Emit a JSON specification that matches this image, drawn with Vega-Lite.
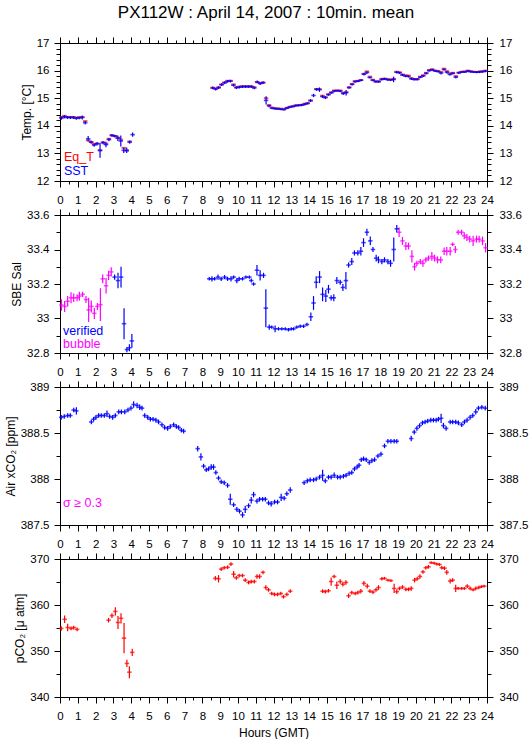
{
"$schema":"https://vega.github.io/schema/vega-lite/v6.json",
"padding":{"left":3,"top":4,"right":0,"bottom":0},
"title":{"text":"PX112W : April 14, 2007 : 10min. mean","fontSize":17,"fontWeight":"normal","font":"Liberation Sans","color":"#000","anchor":"middle","offset":14},
"config":{"font":"Liberation Sans","view":{"stroke":"#000","strokeWidth":1},
"axis":{"labelFont":"Liberation Sans","labelFontSize":11.5,"labelColor":"#000","tickColor":"#000","domainColor":"#000","tickWidth":1,"domainWidth":1,"grid":false,"titleFont":"Liberation Sans","titleFontSize":12,"titleFontWeight":"normal","titleColor":"#000","labelFlush":false,"labelOverlap":false,"labelBound":false,"titlePadding":3}},
"spacing":34,
"bounds":"flush",
"resolve":{"scale":{"x":"independent","y":"independent","color":"independent"}},
"datasets":{
"t":[
{"h":0.083,"s":14.28,"se":0.06,"q":14.31},{"h":0.25,"s":14.33,"se":0.06,"q":14.36},{"h":0.417,"s":14.3,"se":0.05,"q":14.32},{"h":0.583,"s":14.3,"se":0.05,"q":14.32},{"h":0.75,"s":14.3,"se":0.05,"q":14.32},{"h":0.917,"s":14.27,"se":0.05,"q":14.3},{"h":1.083,"s":14.29,"se":0.05,"q":14.31},{"h":1.25,"s":14.3,"se":0.07,"q":14.32},{"h":1.417,"s":14.11,"se":0.06,"q":14.17},
{"h":1.583,"s":13.53,"se":0.1,"q":13.47},{"h":1.75,"s":13.41,"se":0.06,"q":13.41},{"h":1.917,"s":13.3,"se":0.06,"q":13.34},{"h":2.083,"s":13.35,"se":0.06,"q":13.36},{"h":2.25,"s":13.11,"se":0.27,"q":13.11},{"h":2.417,"s":13.39,"se":0.06,"q":13.4},{"h":2.583,"s":13.32,"se":0.1,"q":13.35},{"h":2.75,"s":13.5,"se":0.06,"q":13.53},{"h":2.917,"s":13.65,"se":0.05,"q":13.66},{"h":3.083,"s":13.63,"se":0.05,"q":13.63},{"h":3.25,"s":13.55,"se":0.1,"q":13.57},{"h":3.417,"s":13.45,"se":0.2,"q":13.5},{"h":3.583,"s":13.11,"se":0.1,"q":13.2},{"h":3.75,"s":13.11,"se":0.1,"q":13.1},{"h":3.917,"s":13.41,"se":0.06,"q":13.43},{"h":4.083,"s":13.68,"se":0.08},
{"h":8.583,"s":15.37,"se":0.05,"q":15.38},{"h":8.75,"s":15.33,"se":0.05,"q":15.35},{"h":8.917,"s":15.38,"se":0.05,"q":15.4},{"h":9.083,"s":15.49,"se":0.05,"q":15.5},{"h":9.25,"s":15.56,"se":0.05,"q":15.57},{"h":9.417,"s":15.61,"se":0.05,"q":15.63},{"h":9.583,"s":15.62,"se":0.05,"q":15.63},{"h":9.75,"s":15.47,"se":0.05,"q":15.5},{"h":9.917,"s":15.38,"se":0.05,"q":15.4},{"h":10.083,"s":15.4,"se":0.05,"q":15.42},{"h":10.25,"s":15.42,"se":0.05,"q":15.43},{"h":10.417,"s":15.42,"se":0.05,"q":15.43},{"h":10.583,"s":15.42,"se":0.05,"q":15.43},{"h":10.75,"s":15.42,"se":0.05,"q":15.43},{"h":10.917,"s":15.37,"se":0.05,"q":15.4},{"h":11.083,"s":15.59,"se":0.05,"q":15.58},{"h":11.25,"s":15.53,"se":0.05,"q":15.55},{"h":11.417,"s":15.56,"se":0.05,"q":15.57},{"h":11.583,"s":14.92,"se":0.15,"q":15.0},{"h":11.75,"s":14.72,"se":0.05,"q":14.75},{"h":11.917,"s":14.64,"se":0.04,"q":14.66},{"h":12.083,"s":14.62,"se":0.04,"q":14.64},{"h":12.25,"s":14.61,"se":0.04,"q":14.63},{"h":12.417,"s":14.6,"se":0.04,"q":14.62},{"h":12.583,"s":14.59,"se":0.04,"q":14.6},{"h":12.75,"s":14.64,"se":0.04,"q":14.65},{"h":12.917,"s":14.68,"se":0.04,"q":14.69},{"h":13.083,"s":14.7,"se":0.04,"q":14.71},{"h":13.25,"s":14.73,"se":0.04,"q":14.74},{"h":13.417,"s":14.74,"se":0.04,"q":14.75},{"h":13.583,"s":14.75,"se":0.04,"q":14.76},{"h":13.75,"s":14.78,"se":0.04,"q":14.8},{"h":13.917,"s":14.81,"se":0.04,"q":14.82},{"h":14.083,"s":14.91,"se":0.05,"q":14.92},{"h":14.25,"s":15.1,"se":0.06},{"h":14.417,"s":15.32,"se":0.05,"q":15.33},{"h":14.583,"s":15.31,"se":0.08,"q":15.33},{"h":14.75,"s":15.06,"se":0.05,"q":15.09},{"h":14.917,"s":15.02,"se":0.05,"q":15.04},{"h":15.083,"s":15.13,"se":0.04,"q":15.14},{"h":15.25,"s":15.2,"se":0.04,"q":15.21},{"h":15.417,"s":15.26,"se":0.04,"q":15.28},{"h":15.583,"s":15.27,"se":0.04,"q":15.28},{"h":15.75,"s":15.26,"se":0.04,"q":15.28},{"h":15.917,"s":15.17,"se":0.05,"q":15.2},{"h":16.083,"s":15.2,"se":0.1,"q":15.22},{"h":16.25,"s":15.38,"se":0.04,"q":15.4},{"h":16.417,"s":15.5,"se":0.04,"q":15.52},{"h":16.583,"s":15.6,"se":0.04,"q":15.62},{"h":16.75,"s":15.62,"se":0.04,"q":15.63},{"h":16.917,"s":15.65,"se":0.04,"q":15.66},{"h":17.083,"s":15.87,"se":0.05,"q":15.88},{"h":17.25,"s":15.93,"se":0.05,"q":15.97},{"h":17.417,"s":15.75,"se":0.04,"q":15.78},{"h":17.583,"s":15.65,"se":0.04,"q":15.67},{"h":17.75,"s":15.6,"se":0.04,"q":15.61},{"h":17.917,"s":15.6,"se":0.04,"q":15.61},{"h":18.083,"s":15.68,"se":0.04,"q":15.7},{"h":18.25,"s":15.7,"se":0.04,"q":15.71},{"h":18.417,"s":15.67,"se":0.04,"q":15.69},{"h":18.583,"s":15.66,"se":0.04,"q":15.68},{"h":18.75,"s":15.68,"se":0.1,"q":15.7},{"h":18.917,"s":15.94,"se":0.04,"q":15.96},{"h":19.083,"s":15.92,"se":0.04,"q":15.94},{"h":19.25,"s":15.84,"se":0.04,"q":15.86},{"h":19.417,"s":15.8,"se":0.04,"q":15.83},{"h":19.583,"s":15.79,"se":0.04,"q":15.82},{"h":19.75,"s":15.7,"se":0.04,"q":15.73},{"h":19.917,"s":15.68,"se":0.04,"q":15.69},{"h":20.083,"s":15.68,"se":0.04,"q":15.7},{"h":20.25,"s":15.76,"se":0.04,"q":15.78},{"h":20.417,"s":15.81,"se":0.04,"q":15.83},{"h":20.583,"s":15.9,"se":0.04,"q":15.92},{"h":20.75,"s":16.0,"se":0.04,"q":16.02},{"h":20.917,"s":16.03,"se":0.04,"q":16.05},{"h":21.083,"s":15.99,"se":0.04,"q":16.0},{"h":21.25,"s":15.97,"se":0.04,"q":15.98},{"h":21.417,"s":15.91,"se":0.05,"q":15.95},{"h":21.583,"s":16.04,"se":0.04,"q":16.07},{"h":21.75,"s":15.94,"se":0.05,"q":15.98},{"h":21.917,"s":15.86,"se":0.04,"q":15.9},{"h":22.083,"s":15.9,"se":0.04,"q":15.92},{"h":22.25,"s":15.76,"se":0.05,"q":15.8},{"h":22.417,"s":15.92,"se":0.04,"q":15.93},{"h":22.583,"s":15.95,"se":0.04,"q":15.96},{"h":22.75,"s":15.95,"se":0.04,"q":15.97},{"h":22.917,"s":15.98,"se":0.04,"q":16.0},{"h":23.083,"s":15.96,"se":0.04,"q":15.98},{"h":23.25,"s":15.95,"se":0.04,"q":15.96},{"h":23.417,"s":15.94,"se":0.04,"q":15.95},{"h":23.583,"s":15.95,"se":0.04,"q":15.97},{"h":23.75,"s":15.96,"se":0.04,"q":15.98},{"h":23.917,"s":15.98,"se":0.04,"q":16.0}
],
"s":[
{"h":0.08,"v":33.078,"e":0.033,"f":"b"},{"h":0.26,"v":33.07,"e":0.032,"f":"b"},{"h":0.43,"v":33.1,"e":0.03,"f":"b"},{"h":0.62,"v":33.12,"e":0.032,"f":"b"},{"h":0.77,"v":33.12,"e":0.025,"f":"b"},{"h":0.96,"v":33.12,"e":0.02,"f":"b"},{"h":1.09,"v":33.13,"e":0.025,"f":"b"},{"h":1.27,"v":33.14,"e":0.015,"f":"b"},{"h":1.46,"v":33.11,"e":0.02,"f":"b"},{"h":1.61,"v":33.05,"e":0.07,"f":"b"},{"h":1.76,"v":33.07,"e":0.035,"f":"b"},{"h":1.93,"v":33.03,"e":0.033,"f":"b"},{"h":2.1,"v":33.07,"e":0.02,"f":"b"},{"h":2.27,"v":33.08,"e":0.095,"f":"b"},{"h":2.4,"v":33.23,"e":0.025,"f":"b"},{"h":2.59,"v":33.19,"e":0.045,"f":"b"},{"h":2.73,"v":33.25,"e":0.027,"f":"b"},{"h":2.88,"v":33.27,"e":0.027,"f":"b"},
{"h":3.07,"v":33.24,"e":0.015,"f":"v"},{"h":3.26,"v":33.22,"e":0.045,"f":"v"},{"h":3.43,"v":33.24,"e":0.06,"f":"v"},{"h":3.6,"v":32.97,"e":0.09,"f":"v"},{"h":3.76,"v":32.82,"e":0.015,"f":"v"},{"h":3.9,"v":32.83,"e":0.02,"f":"v"},{"h":4.04,"v":32.87,"e":0.04,"f":"v"},
{"h":8.39,"v":33.23,"e":0.01,"f":"v"},{"h":8.54,"v":33.23,"e":0.015,"f":"v"},{"h":8.69,"v":33.23,"e":0.01,"f":"v"},{"h":8.88,"v":33.24,"e":0.015,"f":"v"},{"h":9.06,"v":33.23,"e":0.012,"f":"v"},{"h":9.25,"v":33.24,"e":0.012,"f":"v"},{"h":9.42,"v":33.23,"e":0.012,"f":"v"},{"h":9.61,"v":33.23,"e":0.015,"f":"v"},{"h":9.76,"v":33.24,"e":0.01,"f":"v"},{"h":9.94,"v":33.22,"e":0.015,"f":"v"},{"h":10.07,"v":33.23,"e":0.012,"f":"v"},{"h":10.26,"v":33.23,"e":0.01,"f":"v"},{"h":10.45,"v":33.24,"e":0.01,"f":"v"},{"h":10.64,"v":33.24,"e":0.01,"f":"v"},{"h":10.75,"v":33.22,"e":0.012,"f":"v"},{"h":10.88,"v":33.2,"e":0.01,"f":"v"},{"h":11.07,"v":33.28,"e":0.03,"f":"v"},{"h":11.25,"v":33.25,"e":0.03,"f":"v"},{"h":11.44,"v":33.25,"e":0.015,"f":"v"},{"h":11.57,"v":33.06,"e":0.11,"f":"v"},{"h":11.76,"v":32.95,"e":0.015,"f":"v"},{"h":11.9,"v":32.95,"e":0.01,"f":"v"},{"h":12.09,"v":32.94,"e":0.02,"f":"v"},{"h":12.28,"v":32.94,"e":0.01,"f":"v"},{"h":12.47,"v":32.94,"e":0.01,"f":"v"},{"h":12.66,"v":32.94,"e":0.01,"f":"v"},{"h":12.84,"v":32.935,"e":0.01,"f":"v"},{"h":13.0,"v":32.94,"e":0.01,"f":"v"},{"h":13.13,"v":32.94,"e":0.01,"f":"v"},{"h":13.31,"v":32.95,"e":0.01,"f":"v"},{"h":13.5,"v":32.955,"e":0.01,"f":"v"},{"h":13.69,"v":32.955,"e":0.01,"f":"v"},{"h":13.88,"v":32.965,"e":0.01,"f":"v"},{"h":14.1,"v":33.01,"e":0.025,"f":"v"},{"h":14.25,"v":33.09,"e":0.04,"f":"v"},{"h":14.4,"v":33.21,"e":0.035,"f":"v"},{"h":14.59,"v":33.24,"e":0.035,"f":"v"},{"h":14.76,"v":33.14,"e":0.04,"f":"v"},{"h":14.94,"v":33.13,"e":0.035,"f":"v"},{"h":15.09,"v":33.17,"e":0.025,"f":"v"},{"h":15.24,"v":33.12,"e":0.015,"f":"v"},{"h":15.39,"v":33.12,"e":0.02,"f":"v"},{"h":15.56,"v":33.22,"e":0.02,"f":"v"},{"h":15.75,"v":33.21,"e":0.015,"f":"v"},{"h":15.9,"v":33.18,"e":0.02,"f":"v"},{"h":16.07,"v":33.22,"e":0.05,"f":"v"},{"h":16.22,"v":33.31,"e":0.015,"f":"v"},{"h":16.4,"v":33.33,"e":0.02,"f":"v"},{"h":16.55,"v":33.38,"e":0.015,"f":"v"},{"h":16.74,"v":33.38,"e":0.015,"f":"v"},{"h":16.91,"v":33.39,"e":0.025,"f":"v"},{"h":17.06,"v":33.44,"e":0.025,"f":"v"},{"h":17.25,"v":33.5,"e":0.02,"f":"v"},{"h":17.44,"v":33.45,"e":0.025,"f":"v"},{"h":17.59,"v":33.4,"e":0.015,"f":"v"},{"h":17.77,"v":33.35,"e":0.02,"f":"v"},{"h":17.9,"v":33.34,"e":0.02,"f":"v"},{"h":18.09,"v":33.33,"e":0.015,"f":"v"},{"h":18.24,"v":33.34,"e":0.015,"f":"v"},{"h":18.43,"v":33.33,"e":0.015,"f":"v"},{"h":18.58,"v":33.32,"e":0.02,"f":"v"},{"h":18.76,"v":33.4,"e":0.07,"f":"v"},{"h":18.93,"v":33.52,"e":0.022,"f":"v"},
{"h":19.06,"v":33.5,"e":0.027,"f":"b"},{"h":19.25,"v":33.45,"e":0.023,"f":"b"},{"h":19.44,"v":33.42,"e":0.023,"f":"b"},{"h":19.59,"v":33.42,"e":0.02,"f":"b"},{"h":19.78,"v":33.36,"e":0.035,"f":"b"},{"h":19.93,"v":33.3,"e":0.022,"f":"b"},{"h":20.06,"v":33.32,"e":0.015,"f":"b"},{"h":20.25,"v":33.33,"e":0.015,"f":"b"},{"h":20.4,"v":33.32,"e":0.02,"f":"b"},{"h":20.56,"v":33.34,"e":0.015,"f":"b"},{"h":20.71,"v":33.35,"e":0.015,"f":"b"},{"h":20.9,"v":33.36,"e":0.025,"f":"b"},{"h":21.05,"v":33.35,"e":0.02,"f":"b"},{"h":21.22,"v":33.34,"e":0.02,"f":"b"},{"h":21.4,"v":33.34,"e":0.02,"f":"b"},{"h":21.59,"v":33.39,"e":0.022,"f":"b"},{"h":21.74,"v":33.39,"e":0.025,"f":"b"},{"h":21.93,"v":33.39,"e":0.025,"f":"b"},{"h":22.07,"v":33.43,"e":0.01,"f":"b"},{"h":22.22,"v":33.4,"e":0.02,"f":"b"},{"h":22.38,"v":33.5,"e":0.015,"f":"b"},{"h":22.57,"v":33.5,"e":0.015,"f":"b"},{"h":22.72,"v":33.48,"e":0.02,"f":"b"},{"h":22.87,"v":33.47,"e":0.02,"f":"b"},{"h":23.03,"v":33.46,"e":0.02,"f":"b"},{"h":23.22,"v":33.45,"e":0.03,"f":"b"},{"h":23.41,"v":33.46,"e":0.02,"f":"b"},{"h":23.56,"v":33.46,"e":0.02,"f":"b"},{"h":23.75,"v":33.45,"e":0.025,"f":"b"},{"h":23.92,"v":33.41,"e":0.027,"f":"b"}
],
"a":[
{"h":0.07,"v":388.67,"e":0.025},{"h":0.24,"v":388.68,"e":0.025},{"h":0.43,"v":388.69,"e":0.025},{"h":0.58,"v":388.69,"e":0.025},{"h":0.77,"v":388.75,"e":0.025},{"h":0.92,"v":388.74,"e":0.04},
{"h":1.76,"v":388.62,"e":0.025},{"h":1.89,"v":388.65,"e":0.025},{"h":2.02,"v":388.67,"e":0.025},{"h":2.17,"v":388.69,"e":0.025},{"h":2.32,"v":388.69,"e":0.025},{"h":2.49,"v":388.69,"e":0.025},{"h":2.64,"v":388.71,"e":0.035},{"h":2.79,"v":388.68,"e":0.025},{"h":2.96,"v":388.67,"e":0.025},{"h":3.11,"v":388.69,"e":0.025},{"h":3.3,"v":388.73,"e":0.025},{"h":3.45,"v":388.73,"e":0.025},{"h":3.64,"v":388.73,"e":0.025},{"h":3.82,"v":388.75,"e":0.025},{"h":3.99,"v":388.77,"e":0.025},{"h":4.14,"v":388.81,"e":0.035},{"h":4.33,"v":388.8,"e":0.03},{"h":4.48,"v":388.78,"e":0.03},{"h":4.61,"v":388.77,"e":0.025},{"h":4.76,"v":388.69,"e":0.025},{"h":4.93,"v":388.67,"e":0.025},{"h":5.08,"v":388.65,"e":0.025},{"h":5.23,"v":388.65,"e":0.025},{"h":5.39,"v":388.64,"e":0.025},{"h":5.54,"v":388.62,"e":0.025},{"h":5.73,"v":388.59,"e":0.025},{"h":5.88,"v":388.56,"e":0.025},{"h":6.05,"v":388.55,"e":0.025},{"h":6.2,"v":388.57,"e":0.025},{"h":6.39,"v":388.59,"e":0.025},{"h":6.54,"v":388.57,"e":0.025},{"h":6.67,"v":388.56,"e":0.025},{"h":6.82,"v":388.53,"e":0.025},{"h":6.95,"v":388.52,"e":0.025},
{"h":7.74,"v":388.33,"e":0.03},{"h":7.92,"v":388.24,"e":0.04},{"h":8.07,"v":388.14,"e":0.025},{"h":8.22,"v":388.1,"e":0.025},{"h":8.35,"v":388.11,"e":0.025},{"h":8.5,"v":388.13,"e":0.03},{"h":8.63,"v":388.13,"e":0.03},{"h":8.76,"v":388.07,"e":0.025},{"h":8.91,"v":388.01,"e":0.025},{"h":9.06,"v":387.97,"e":0.025},{"h":9.23,"v":387.96,"e":0.025},{"h":9.42,"v":387.93,"e":0.025},{"h":9.57,"v":387.78,"e":0.06},{"h":9.76,"v":387.72,"e":0.025},{"h":9.94,"v":387.67,"e":0.025},{"h":10.09,"v":387.65,"e":0.025},{"h":10.26,"v":387.61,"e":0.03},{"h":10.41,"v":387.67,"e":0.04},{"h":10.6,"v":387.71,"e":0.025},{"h":10.75,"v":387.77,"e":0.035},{"h":10.88,"v":387.83,"e":0.03},{"h":11.07,"v":387.76,"e":0.025},{"h":11.22,"v":387.78,"e":0.025},{"h":11.39,"v":387.78,"e":0.025},{"h":11.54,"v":387.78,"e":0.025},{"h":11.72,"v":387.74,"e":0.025},{"h":11.87,"v":387.73,"e":0.03},{"h":12.06,"v":387.75,"e":0.025},{"h":12.23,"v":387.75,"e":0.025},{"h":12.43,"v":387.8,"e":0.04},{"h":12.6,"v":387.79,"e":0.025},{"h":12.75,"v":387.84,"e":0.025},{"h":12.94,"v":387.88,"e":0.03},
{"h":13.72,"v":387.96,"e":0.025},{"h":13.9,"v":387.98,"e":0.025},{"h":14.06,"v":387.99,"e":0.025},{"h":14.25,"v":387.99,"e":0.025},{"h":14.4,"v":388.0,"e":0.025},{"h":14.59,"v":388.02,"e":0.025},{"h":14.76,"v":388.04,"e":0.06},{"h":14.91,"v":387.98,"e":0.025},{"h":15.09,"v":388.02,"e":0.025},{"h":15.24,"v":388.02,"e":0.025},{"h":15.41,"v":388.04,"e":0.03},{"h":15.6,"v":388.02,"e":0.025},{"h":15.75,"v":388.02,"e":0.025},{"h":15.93,"v":388.03,"e":0.025},{"h":16.08,"v":388.04,"e":0.025},{"h":16.25,"v":388.06,"e":0.025},{"h":16.4,"v":388.07,"e":0.025},{"h":16.55,"v":388.11,"e":0.025},{"h":16.7,"v":388.13,"e":0.025},{"h":16.81,"v":388.15,"e":0.025},{"h":16.93,"v":388.21,"e":0.025},{"h":17.06,"v":388.22,"e":0.025},{"h":17.21,"v":388.21,"e":0.025},{"h":17.38,"v":388.18,"e":0.025},{"h":17.53,"v":388.2,"e":0.025},{"h":17.68,"v":388.21,"e":0.025},{"h":17.87,"v":388.25,"e":0.025},{"h":18.04,"v":388.27,"e":0.025},{"h":18.24,"v":388.36,"e":0.025},{"h":18.43,"v":388.41,"e":0.025},{"h":18.6,"v":388.41,"e":0.025},{"h":18.78,"v":388.41,"e":0.025},{"h":18.93,"v":388.41,"e":0.025},
{"h":19.74,"v":388.44,"e":0.03},{"h":19.91,"v":388.51,"e":0.025},{"h":20.06,"v":388.55,"e":0.025},{"h":20.21,"v":388.58,"e":0.025},{"h":20.37,"v":388.61,"e":0.025},{"h":20.52,"v":388.62,"e":0.025},{"h":20.67,"v":388.63,"e":0.025},{"h":20.84,"v":388.64,"e":0.025},{"h":20.99,"v":388.64,"e":0.025},{"h":21.14,"v":388.64,"e":0.025},{"h":21.27,"v":388.65,"e":0.025},{"h":21.42,"v":388.66,"e":0.05},{"h":21.55,"v":388.58,"e":0.03},{"h":21.7,"v":388.55,"e":0.025},{"h":21.93,"v":388.62,"e":0.025},{"h":22.07,"v":388.62,"e":0.025},{"h":22.24,"v":388.62,"e":0.025},{"h":22.39,"v":388.61,"e":0.025},{"h":22.58,"v":388.59,"e":0.025},{"h":22.73,"v":388.62,"e":0.025},{"h":22.88,"v":388.64,"e":0.025},{"h":23.05,"v":388.67,"e":0.025},{"h":23.2,"v":388.69,"e":0.025},{"h":23.37,"v":388.73,"e":0.03},{"h":23.52,"v":388.77,"e":0.025},{"h":23.71,"v":388.78,"e":0.025},{"h":23.9,"v":388.77,"e":0.025}
],
"p":[
{"h":0.07,"v":354.9,"e":0.5},{"h":0.26,"v":356.9,"e":0.8},{"h":0.43,"v":355.1,"e":0.8},{"h":0.62,"v":354.9,"e":0.4},{"h":0.77,"v":355.1,"e":0.4},{"h":0.96,"v":354.7,"e":0.4},
{"h":2.73,"v":356.7,"e":0.5},{"h":2.92,"v":357.7,"e":0.5},{"h":3.11,"v":358.6,"e":0.9},{"h":3.26,"v":356.2,"e":1.4},{"h":3.43,"v":357.1,"e":1.1},{"h":3.6,"v":352.8,"e":3.3},{"h":3.76,"v":347.3,"e":0.8},{"h":3.9,"v":345.4,"e":1.3},{"h":4.06,"v":349.7,"e":0.8},
{"h":8.73,"v":365.8,"e":0.5},{"h":8.91,"v":365.7,"e":0.8},{"h":9.06,"v":367.8,"e":0.4},{"h":9.23,"v":368.1,"e":0.4},{"h":9.42,"v":368.2,"e":0.4},{"h":9.61,"v":368.9,"e":0.4},{"h":9.76,"v":366.7,"e":0.7},{"h":9.91,"v":365.9,"e":0.4},{"h":10.07,"v":366.4,"e":0.4},{"h":10.26,"v":366.4,"e":0.4},{"h":10.41,"v":365.4,"e":0.4},{"h":10.6,"v":364.9,"e":0.4},{"h":10.75,"v":365.1,"e":0.4},{"h":10.92,"v":365.1,"e":0.4},{"h":11.07,"v":366.2,"e":0.5},{"h":11.22,"v":366.2,"e":0.5},{"h":11.41,"v":367.1,"e":0.4},{"h":11.57,"v":363.8,"e":0.5},{"h":11.72,"v":363.3,"e":0.4},{"h":11.9,"v":362.5,"e":0.4},{"h":12.06,"v":362.3,"e":0.4},{"h":12.23,"v":362.3,"e":0.4},{"h":12.41,"v":362.5,"e":0.4},{"h":12.56,"v":361.8,"e":0.4},{"h":12.75,"v":362.3,"e":0.4},{"h":12.94,"v":363.0,"e":0.4},
{"h":14.76,"v":363.0,"e":0.4},{"h":14.91,"v":362.9,"e":0.4},{"h":15.09,"v":363.1,"e":0.4},{"h":15.24,"v":365.1,"e":0.9},{"h":15.41,"v":366.2,"e":0.4},{"h":15.56,"v":364.3,"e":0.8},{"h":15.75,"v":365.1,"e":0.5},{"h":15.9,"v":364.5,"e":0.5},{"h":16.07,"v":364.9,"e":0.5},{"h":16.22,"v":362.0,"e":0.5},{"h":16.4,"v":362.7,"e":0.4},{"h":16.59,"v":362.5,"e":0.4},{"h":16.74,"v":362.7,"e":0.4},{"h":16.91,"v":363.0,"e":0.5},{"h":17.08,"v":364.7,"e":0.5},{"h":17.27,"v":364.1,"e":0.5},{"h":17.42,"v":363.0,"e":0.4},{"h":17.59,"v":362.8,"e":0.4},{"h":17.76,"v":363.3,"e":0.4},{"h":17.9,"v":363.8,"e":0.5},{"h":18.09,"v":365.7,"e":0.4},{"h":18.24,"v":365.8,"e":0.3},{"h":18.43,"v":365.4,"e":0.3},{"h":18.6,"v":365.3,"e":0.3},{"h":18.78,"v":363.6,"e":1.0},{"h":18.93,"v":362.9,"e":0.5},{"h":19.08,"v":363.6,"e":0.4},{"h":19.25,"v":363.9,"e":0.4},{"h":19.44,"v":363.4,"e":0.4},{"h":19.59,"v":363.4,"e":0.4},{"h":19.74,"v":363.6,"e":0.5},{"h":19.93,"v":365.4,"e":0.5},{"h":20.08,"v":365.7,"e":0.4},{"h":20.23,"v":366.2,"e":0.5},{"h":20.4,"v":367.2,"e":0.4},{"h":20.56,"v":368.1,"e":0.4},{"h":20.71,"v":368.3,"e":0.4},{"h":20.86,"v":369.2,"e":0.3},{"h":21.03,"v":369.1,"e":0.3},{"h":21.18,"v":368.9,"e":0.3},{"h":21.33,"v":368.8,"e":0.3},{"h":21.46,"v":368.1,"e":0.4},{"h":21.61,"v":368.0,"e":0.4},{"h":21.74,"v":367.1,"e":0.5},{"h":21.93,"v":365.2,"e":0.5},{"h":22.07,"v":365.4,"e":0.4},{"h":22.24,"v":363.6,"e":0.8},{"h":22.38,"v":363.6,"e":0.3},{"h":22.57,"v":363.6,"e":0.3},{"h":22.73,"v":363.6,"e":0.3},{"h":22.89,"v":364.1,"e":0.4},{"h":23.05,"v":363.6,"e":0.4},{"h":23.22,"v":363.3,"e":0.3},{"h":23.37,"v":363.6,"e":0.4},{"h":23.54,"v":363.8,"e":0.4},{"h":23.69,"v":364.0,"e":0.3},{"h":23.84,"v":364.1,"e":0.3}
]
},
"vconcat":[
{"width":427,"height":138,"data":{"name":"t"},
 "resolve":{"axis":{"x":"independent","y":"independent"}},
 "layer":[
  {"mark":{"type":"tick","orient":"horizontal","size":4.5,"thickness":2,"color":"#ff0000"},
   "encoding":{"x":{"field":"h","type":"quantitative","scale":{"domain":[0,24],"nice":false,"zero":false},"axis":{"orient":"bottom","values":[0,1,2,3,4,5,6,7,8,9,10,11,12,13,14,15,16,17,18,19,20,21,22,23,24],"tickSize":6,"labelPadding":7,"format":"d","title":null}},
    "y":{"field":"q","type":"quantitative","scale":{"domain":[12,17],"nice":false,"zero":false},"axis":{"orient":"left","values":[12,13,14,15,16,17],"tickSize":6,"labelPadding":5,"format":".6~g","title":"Temp. [°C]"}}}},
  {"mark":{"type":"errorbar","color":"#0000ff","thickness":1.2},
   "encoding":{"x":{"field":"h","type":"quantitative","scale":{"domain":[0,24],"nice":false,"zero":false},"axis":{"orient":"top","values":[0,1,2,3,4,5,6,7,8,9,10,11,12,13,14,15,16,17,18,19,20,21,22,23,24],"tickSize":6,"labels":false,"title":null}},
    "y":{"field":"s","type":"quantitative","scale":{"domain":[12,17],"nice":false,"zero":false},"axis":{"orient":"right","values":[12,13,14,15,16,17],"tickSize":6,"labelPadding":6,"format":".6~g","title":null}},
    "yError":{"field":"se"}}},
  {"mark":{"type":"tick","orient":"horizontal","size":4.5,"thickness":1.6,"color":"#0000ff"},
   "encoding":{"x":{"field":"h","type":"quantitative","scale":{"domain":[0,24],"nice":false,"zero":false},"axis":{"orient":"bottom","values":[0.5,1.5,2.5,3.5,4.5,5.5,6.5,7.5,8.5,9.5,10.5,11.5,12.5,13.5,14.5,15.5,16.5,17.5,18.5,19.5,20.5,21.5,22.5,23.5],"tickSize":3,"labels":false,"domain":false,"title":null}},
    "y":{"field":"s","type":"quantitative","scale":{"domain":[12,17],"nice":false,"zero":false},"axis":{"orient":"left","values":[12.2,12.4,12.6,12.8,13.2,13.4,13.6,13.8,14.2,14.4,14.6,14.8,15.2,15.4,15.6,15.8,16.2,16.4,16.6,16.8],"tickSize":4,"labels":false,"domain":false,"title":null}}}},
  {"data":{"values":[{"h":0.22,"y":12.86,"t":"Eq_T"},{"h":0.22,"y":12.35,"t":"SST"}]},
   "mark":{"type":"text","align":"left","baseline":"middle","fontSize":12.5,"font":"Liberation Sans"},
   "encoding":{"x":{"field":"h","type":"quantitative","scale":{"domain":[0,24],"nice":false,"zero":false},"axis":{"orient":"top","values":[0.5,1.5,2.5,3.5,4.5,5.5,6.5,7.5,8.5,9.5,10.5,11.5,12.5,13.5,14.5,15.5,16.5,17.5,18.5,19.5,20.5,21.5,22.5,23.5],"tickSize":3,"labels":false,"domain":false,"title":null}},
    "y":{"field":"y","type":"quantitative","scale":{"domain":[12,17],"nice":false,"zero":false},"axis":{"orient":"right","values":[12.2,12.4,12.6,12.8,13.2,13.4,13.6,13.8,14.2,14.4,14.6,14.8,15.2,15.4,15.6,15.8,16.2,16.4,16.6,16.8],"tickSize":4,"labels":false,"domain":false,"title":null}},
    "text":{"field":"t"},
    "color":{"field":"t","type":"nominal","scale":{"domain":["Eq_T","SST"],"range":["#ff0000","#0000ff"]},"legend":null}}}
 ]},
{"width":427,"height":138,"data":{"name":"s"},
 "resolve":{"axis":{"x":"independent","y":"independent"}},
 "layer":[
  {"mark":{"type":"errorbar","thickness":1.2},
   "encoding":{"x":{"field":"h","type":"quantitative","scale":{"domain":[0,24],"nice":false,"zero":false},"axis":{"orient":"bottom","values":[0,1,2,3,4,5,6,7,8,9,10,11,12,13,14,15,16,17,18,19,20,21,22,23,24],"tickSize":6,"labelPadding":7,"format":"d","title":null}},
    "y":{"field":"v","type":"quantitative","scale":{"domain":[32.8,33.6],"nice":false,"zero":false},"axis":{"orient":"left","values":[32.8,33,33.2,33.4,33.6],"tickSize":6,"labelPadding":5,"format":".6~g","title":"SBE Sal"}},
    "yError":{"field":"e"},
    "color":{"field":"f","type":"nominal","scale":{"domain":["v","b"],"range":["#0000ff","#ff00ff"]},"legend":null}}},
  {"mark":{"type":"tick","orient":"horizontal","size":4.5,"thickness":1.6},
   "encoding":{"x":{"field":"h","type":"quantitative","scale":{"domain":[0,24],"nice":false,"zero":false},"axis":{"orient":"top","values":[0,1,2,3,4,5,6,7,8,9,10,11,12,13,14,15,16,17,18,19,20,21,22,23,24],"tickSize":6,"labels":false,"title":null}},
    "y":{"field":"v","type":"quantitative","scale":{"domain":[32.8,33.6],"nice":false,"zero":false},"axis":{"orient":"right","values":[32.8,33,33.2,33.4,33.6],"tickSize":6,"labelPadding":6,"format":".6~g","title":null}},
    "color":{"field":"f","type":"nominal","scale":{"domain":["v","b"],"range":["#0000ff","#ff00ff"]},"legend":null}}},
  {"mark":{"type":"tick","orient":"horizontal","size":4.5,"thickness":1.5,"opacity":0},
   "encoding":{"x":{"field":"h","type":"quantitative","scale":{"domain":[0,24],"nice":false,"zero":false},"axis":{"orient":"bottom","values":[0.5,1.5,2.5,3.5,4.5,5.5,6.5,7.5,8.5,9.5,10.5,11.5,12.5,13.5,14.5,15.5,16.5,17.5,18.5,19.5,20.5,21.5,22.5,23.5],"tickSize":3,"labels":false,"domain":false,"title":null}},
    "y":{"field":"v","type":"quantitative","scale":{"domain":[32.8,33.6],"nice":false,"zero":false},"axis":{"orient":"left","values":[32.9,33.1,33.3,33.5],"tickSize":4,"labels":false,"domain":false,"title":null}}}},
  {"data":{"values":[{"h":0.17,"v":32.928,"t":"verified","f":"v"},{"h":0.17,"v":32.852,"t":"bubble","f":"b"}]},
   "mark":{"type":"text","align":"left","baseline":"middle","fontSize":12.5,"font":"Liberation Sans"},
   "encoding":{"x":{"field":"h","type":"quantitative","scale":{"domain":[0,24],"nice":false,"zero":false},"axis":{"orient":"top","values":[0.5,1.5,2.5,3.5,4.5,5.5,6.5,7.5,8.5,9.5,10.5,11.5,12.5,13.5,14.5,15.5,16.5,17.5,18.5,19.5,20.5,21.5,22.5,23.5],"tickSize":3,"labels":false,"domain":false,"title":null}},
    "y":{"field":"v","type":"quantitative","scale":{"domain":[32.8,33.6],"nice":false,"zero":false},"axis":{"orient":"right","values":[32.9,33.1,33.3,33.5],"tickSize":4,"labels":false,"domain":false,"title":null}},
    "text":{"field":"t"},
    "color":{"field":"f","type":"nominal","scale":{"domain":["v","b"],"range":["#0000ff","#ff00ff"]},"legend":null}}}
 ]},
{"width":427,"height":138,"data":{"name":"a"},
 "resolve":{"axis":{"x":"independent","y":"independent"}},
 "layer":[
  {"mark":{"type":"errorbar","color":"#0000ff","thickness":1.2},
   "encoding":{"x":{"field":"h","type":"quantitative","scale":{"domain":[0,24],"nice":false,"zero":false},"axis":{"orient":"bottom","values":[0,1,2,3,4,5,6,7,8,9,10,11,12,13,14,15,16,17,18,19,20,21,22,23,24],"tickSize":6,"labelPadding":7,"format":"d","title":null}},
    "y":{"field":"v","type":"quantitative","scale":{"domain":[387.5,389],"nice":false,"zero":false},"axis":{"orient":"left","values":[387.5,388,388.5,389],"tickSize":6,"labelPadding":5,"format":".6~g","title":"Air xCO₂ [ppm]"}},
    "yError":{"field":"e"}}},
  {"mark":{"type":"tick","orient":"horizontal","size":4.5,"thickness":1.6,"color":"#0000ff"},
   "encoding":{"x":{"field":"h","type":"quantitative","scale":{"domain":[0,24],"nice":false,"zero":false},"axis":{"orient":"top","values":[0,1,2,3,4,5,6,7,8,9,10,11,12,13,14,15,16,17,18,19,20,21,22,23,24],"tickSize":6,"labels":false,"title":null}},
    "y":{"field":"v","type":"quantitative","scale":{"domain":[387.5,389],"nice":false,"zero":false},"axis":{"orient":"right","values":[387.5,388,388.5,389],"tickSize":6,"labelPadding":6,"format":".6~g","title":null}}}},
  {"mark":{"type":"tick","orient":"horizontal","size":4.5,"thickness":1.5,"opacity":0},
   "encoding":{"x":{"field":"h","type":"quantitative","scale":{"domain":[0,24],"nice":false,"zero":false},"axis":{"orient":"bottom","values":[0.5,1.5,2.5,3.5,4.5,5.5,6.5,7.5,8.5,9.5,10.5,11.5,12.5,13.5,14.5,15.5,16.5,17.5,18.5,19.5,20.5,21.5,22.5,23.5],"tickSize":3,"labels":false,"domain":false,"title":null}},
    "y":{"field":"v","type":"quantitative","scale":{"domain":[387.5,389],"nice":false,"zero":false},"axis":{"orient":"left","values":[387.75,388.25,388.75],"tickSize":4,"labels":false,"domain":false,"title":null}}}},
  {"data":{"values":[{"h":0.17,"v":387.74,"t":"σ ≥ 0.3"}]},
   "mark":{"type":"text","align":"left","baseline":"middle","fontSize":12.5,"font":"Liberation Sans","color":"#ff00ff"},
   "encoding":{"x":{"field":"h","type":"quantitative","scale":{"domain":[0,24],"nice":false,"zero":false},"axis":{"orient":"top","values":[0.5,1.5,2.5,3.5,4.5,5.5,6.5,7.5,8.5,9.5,10.5,11.5,12.5,13.5,14.5,15.5,16.5,17.5,18.5,19.5,20.5,21.5,22.5,23.5],"tickSize":3,"labels":false,"domain":false,"title":null}},
    "y":{"field":"v","type":"quantitative","scale":{"domain":[387.5,389],"nice":false,"zero":false},"axis":{"orient":"right","values":[387.75,388.25,388.75],"tickSize":4,"labels":false,"domain":false,"title":null}},
    "text":{"field":"t"}}}
 ]},
{"width":427,"height":138,"data":{"name":"p"},
 "resolve":{"axis":{"x":"independent","y":"independent"}},
 "layer":[
  {"mark":{"type":"errorbar","color":"#ff0000","thickness":1.2},
   "encoding":{"x":{"field":"h","type":"quantitative","scale":{"domain":[0,24],"nice":false,"zero":false},"axis":{"orient":"bottom","values":[0,1,2,3,4,5,6,7,8,9,10,11,12,13,14,15,16,17,18,19,20,21,22,23,24],"tickSize":6,"labelPadding":7,"format":"d","title":"Hours (GMT)","titlePadding":6}},
    "y":{"field":"v","type":"quantitative","scale":{"domain":[340,370],"nice":false,"zero":false},"axis":{"orient":"left","values":[340,350,360,370],"tickSize":6,"labelPadding":5,"format":".6~g","title":"pCO₂ [μ atm]"}},
    "yError":{"field":"e"}}},
  {"mark":{"type":"tick","orient":"horizontal","size":4.5,"thickness":1.6,"color":"#ff0000"},
   "encoding":{"x":{"field":"h","type":"quantitative","scale":{"domain":[0,24],"nice":false,"zero":false},"axis":{"orient":"top","values":[0,1,2,3,4,5,6,7,8,9,10,11,12,13,14,15,16,17,18,19,20,21,22,23,24],"tickSize":6,"labels":false,"title":null}},
    "y":{"field":"v","type":"quantitative","scale":{"domain":[340,370],"nice":false,"zero":false},"axis":{"orient":"right","values":[340,350,360,370],"tickSize":6,"labelPadding":6,"format":".6~g","title":null}}}},
  {"mark":{"type":"tick","orient":"horizontal","size":4.5,"thickness":1.5,"opacity":0},
   "encoding":{"x":{"field":"h","type":"quantitative","scale":{"domain":[0,24],"nice":false,"zero":false},"axis":{"orient":"bottom","values":[0.5,1.5,2.5,3.5,4.5,5.5,6.5,7.5,8.5,9.5,10.5,11.5,12.5,13.5,14.5,15.5,16.5,17.5,18.5,19.5,20.5,21.5,22.5,23.5],"tickSize":3,"labels":false,"domain":false,"title":null}},
    "y":{"field":"v","type":"quantitative","scale":{"domain":[340,370],"nice":false,"zero":false},"axis":{"orient":"left","values":[345,355,365],"tickSize":4,"labels":false,"domain":false,"title":null}}}},
  {"mark":{"type":"tick","orient":"horizontal","size":4.5,"thickness":1.5,"opacity":0},
   "encoding":{"x":{"field":"h","type":"quantitative","scale":{"domain":[0,24],"nice":false,"zero":false},"axis":{"orient":"top","values":[0.5,1.5,2.5,3.5,4.5,5.5,6.5,7.5,8.5,9.5,10.5,11.5,12.5,13.5,14.5,15.5,16.5,17.5,18.5,19.5,20.5,21.5,22.5,23.5],"tickSize":3,"labels":false,"domain":false,"title":null}},
    "y":{"field":"v","type":"quantitative","scale":{"domain":[340,370],"nice":false,"zero":false},"axis":{"orient":"right","values":[345,355,365],"tickSize":4,"labels":false,"domain":false,"title":null}}}}
 ]}
]
}
